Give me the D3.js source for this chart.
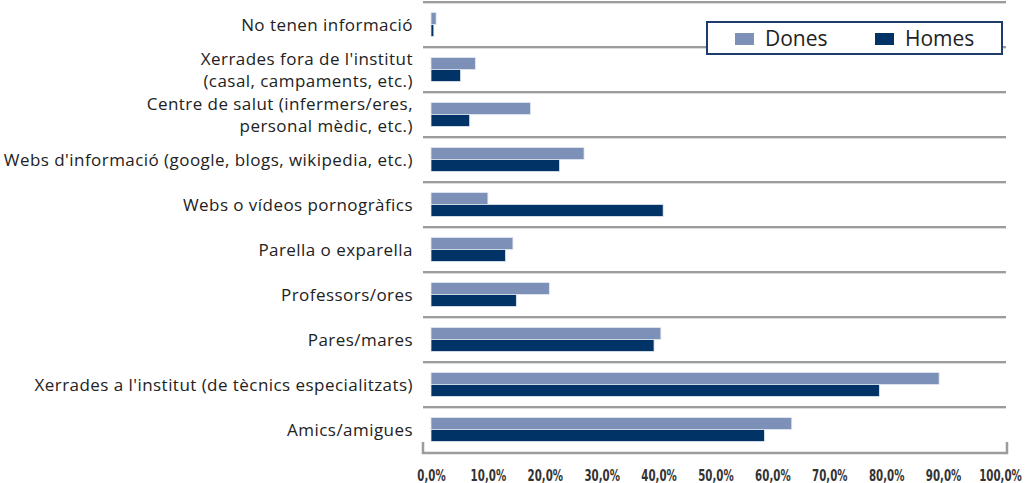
<!DOCTYPE html>
<html>
<head>
<meta charset="utf-8">
<script src="https://cdn.jsdelivr.net/npm/d3@7"></script>
<style>
  body { margin: 0; background: #fff; }
  svg { display: block; }
</style>
</head>
<body>
<svg id="chart" width="1028" height="483"></svg>
<script>
// categories, top to bottom; labels with "\n" break onto two lines
const categories = [
  "No tenen informació",
  "Xerrades fora de l'institut\n(casal, campaments, etc.)",
  "Centre de salut (infermers/eres,\npersonal mèdic, etc.)",
  "Webs d'informació (google, blogs, wikipedia, etc.)",
  "Webs o vídeos pornogràfics",
  "Parella o exparella",
  "Professors/ores",
  "Pares/mares",
  "Xerrades a l'institut (de tècnics especialitzats)",
  "Amics/amigues"
];
const dones = [0.9, 7.8, 17.5, 26.9, 10.0, 14.4, 20.8, 40.4, 89.3, 63.4];
const homes = [0.5, 5.2, 6.8, 22.6, 40.8, 13.1, 15.0, 39.2, 78.8, 58.6];
const seriesNames = ["Dones", "Homes"];
const tickValues = [0, 10, 20, 30, 40, 50, 60, 70, 80, 90, 100];

const colors = { Dones: "#7d91b8", Homes: "#023366" };

const svg = d3.select("#chart");
const plotLeft = 431, plotRight = 1000, plotTop = 2, plotBottom = 452;

const x = d3.scaleLinear().domain([0, 100]).range([plotLeft, plotRight]);
const y = d3.scaleBand().domain(categories).range([plotTop, plotBottom]);
const inner = d3.scaleBand().domain(seriesNames).range([0, 24]).paddingInner(0);

// horizontal separators between categories
const gridYs = categories.map(c => y(c));
const grid = svg.append("g");
grid.selectAll("line.shadow").data(gridYs).enter().append("line")
  .attr("class", "shadow")
  .attr("x1", 423).attr("x2", 1006)
  .attr("y1", d => d + 1.5).attr("y2", d => d + 1.5)
  .attr("stroke", "#dcdcdc").attr("stroke-width", 1);
grid.selectAll("line.main").data(gridYs).enter().append("line")
  .attr("class", "main")
  .attr("x1", 423).attr("x2", 1006)
  .attr("y1", d => d).attr("y2", d => d)
  .attr("stroke", "#9c9c9c").attr("stroke-width", 2);

// bottom bracket
svg.append("path")
  .attr("d", `M423,442 V453 H1007 V442`)
  .attr("fill", "none")
  .attr("stroke", "#9c9c9c")
  .attr("stroke-width", 2.5);

// bars
const rows = categories.map((c, i) => ({ cat: c, Dones: dones[i], Homes: homes[i] }));
const groups = svg.append("g").selectAll("g").data(rows).enter().append("g")
  .attr("transform", d => `translate(0,${y(d.cat) + (y.bandwidth() - 24) / 2})`);
groups.selectAll("rect").data(d => seriesNames.map(s => ({ s, v: d[s] }))).enter().append("rect")
  .attr("x", x(0))
  .attr("y", d => inner(d.s))
  .attr("width", d => x(d.v) - x(0))
  .attr("height", inner.bandwidth())
  .attr("fill", d => colors[d.s])
  .attr("stroke", "#e3e9f2")
  .attr("stroke-width", 0.8);

// category labels
const labels = svg.append("g").selectAll("text").data(categories).enter().append("text")
  .attr("x", 413)
  .attr("y", d => y(d) + y.bandwidth() / 2)
  .attr("text-anchor", "end")
  .attr("font-family", "'Open Sans', Lato, sans-serif")
  .attr("font-size", 17)
  .attr("letter-spacing", 0.45)
  .attr("fill", "#222");
labels.each(function(d) {
  const lines = d.split("\n");
  const t = d3.select(this);
  lines.forEach((ln, i) => {
    t.append("tspan")
      .attr("x", 413)
      .attr("dy", i === 0 ? (lines.length === 1 ? 6 : -4.5) : 21.5)
      .text(ln);
  });
});

// x axis tick labels (condensed bold)
const xAxis = d3.axisBottom(x)
  .tickValues(tickValues)
  .tickSize(0)
  .tickFormat(d => d3.format(".1f")(d).replace(".", ",") + "%");
const ax = svg.append("g").attr("transform", "translate(0,467)").call(xAxis);
ax.select(".domain").remove();
ax.selectAll("text")
  .attr("font-family", "'DejaVu Sans Condensed', 'DejaVu Sans', sans-serif")
  .attr("font-weight", "bold")
  .attr("font-size", 15)
  .attr("transform", "scale(0.76,1)")
  .attr("fill", "#333");

// legend
const legend = svg.append("g").attr("transform", "translate(707,22)");
legend.append("rect")
  .attr("width", 295).attr("height", 32)
  .attr("fill", "#fff")
  .attr("stroke", "#1d3c6c").attr("stroke-width", 2);
const items = [{ s: "Dones", x: 28 }, { s: "Homes", x: 168 }];
items.forEach(it => {
  legend.append("rect")
    .attr("x", it.x).attr("y", 11)
    .attr("width", 19).attr("height", 12)
    .attr("fill", colors[it.s]);
  legend.append("text")
    .attr("x", it.x + 30).attr("y", 24)
    .attr("font-family", "'Open Sans', Lato, sans-serif")
    .attr("font-size", 21)
    .attr("fill", "#222")
    .text(it.s);
});
</script>
</body>
</html>
